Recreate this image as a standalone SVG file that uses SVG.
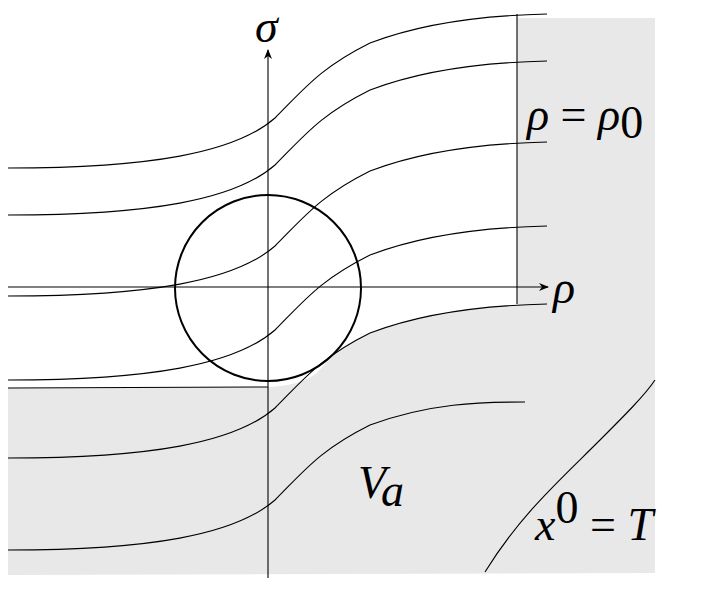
<svg xmlns="http://www.w3.org/2000/svg" width="706" height="593" viewBox="0 0 706 593">
<style>
.s{fill:none;stroke:#000;stroke-width:1.1}
.t{font-family:"Liberation Serif",serif;font-style:italic;font-size:46px;fill:#000}
.n{font-family:"Liberation Serif",serif;font-size:46px;fill:#000}
</style>
<defs>
<marker id="a" viewBox="0 0 10 8" refX="9" refY="4" markerWidth="10" markerHeight="8" markerUnits="userSpaceOnUse" orient="auto"><path d="M0,0 L10,4 L0,8 L3,4 Z" fill="#000"/></marker>
<path id="sl" d="M8,0 C150,0 235,-15 275,-50 C305,-80 320,-100 370,-125 C430,-148 500,-153 547,-154"/>
</defs>
<g id="region">
<path d="M8,388 L268,387 Q300,386 317,373 C335,352 350,340 370,333 C420,314 480,306 517,305 L517,18 L655,18 L655,573 L8,575 Z" fill="#e8e8e8"/>
</g>
<g id="connectors">
<use href="#sl" class="s" transform="translate(0,168)"/>
<use href="#sl" class="s" transform="translate(0,215)"/>
<use href="#sl" class="s" transform="translate(0,296)"/>
<use href="#sl" class="s" transform="translate(0,380)"/>
<use href="#sl" class="s" transform="translate(0,458)"/>
<path class="s" d="M8,550 C150,550 235,535 275,500 C305,470 320,450 370,425 C430,403 480,402 525,402"/>
<path class="s" d="M8,388 L268,387"/>
<path class="s" d="M517,14 L517,304"/>
<path class="s" d="M485,572 C520,515 560,480 600,440 C625,415 645,395 655,380"/>
<path class="s" d="M268,578 L268,50" marker-end="url(#a)"/>
<path class="s" d="M8,287 L548,287" marker-end="url(#a)"/>
</g>
<g id="circle"><circle cx="268" cy="288" r="93" fill="none" stroke="#000" stroke-width="2"/></g>
<g id="labels">
<text class="t" x="255" y="42">σ</text>
<text class="t" x="553" y="303">ρ</text>
<text x="527" y="130"><tspan class="t">ρ</tspan><tspan class="n"> = </tspan><tspan class="t">ρ</tspan><tspan class="n" font-size="28" dy="8">0</tspan></text>
<text x="358" y="498"><tspan class="t">V</tspan><tspan class="t" font-size="28" dy="8">a</tspan></text>
<text x="535" y="540"><tspan class="t">x</tspan><tspan class="n" font-size="28" dy="-17">0</tspan><tspan class="n" dy="17"> = </tspan><tspan class="t">T</tspan></text>
</g>
</svg>
